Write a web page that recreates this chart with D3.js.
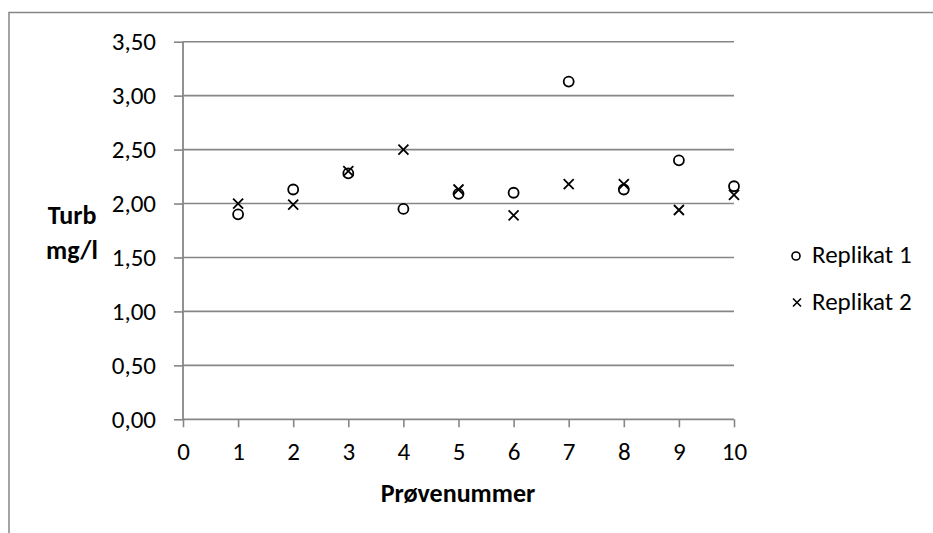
<!DOCTYPE html>
<html>
<head>
<meta charset="utf-8">
<script src="https://cdn.jsdelivr.net/npm/d3@7"></script>
<style>
body { margin: 0; background: #fff; }
svg { display: block; }
text { font-family: Calibri, Carlito, Lato, sans-serif; fill: #000; }
</style>
</head>
<body>
<div id="putsvghere"></div>
<script>
var width = 933;
var height = 533;

// data
var provenummer = [1, 2, 3, 4, 5, 6, 7, 8, 9, 10];
var replikat1 = [1.90, 2.13, 2.28, 1.95, 2.09, 2.10, 3.13, 2.13, 2.40, 2.16];
var replikat2 = [2.00, 1.99, 2.30, 2.50, 2.13, 1.89, 2.18, 2.18, 1.94, 2.08];
var yTicks = [0, 0.5, 1, 1.5, 2, 2.5, 3, 3.5];
var xTicks = [0, 1, 2, 3, 4, 5, 6, 7, 8, 9, 10];
var seriesNames = ["Replikat 1", "Replikat 2"];

var grey = "#868686";
var fontSize = 25;
var titleSize = 26;

var svg = d3.select("#putsvghere").append("svg")
    .attr("width", width).attr("height", height);

// chart border (only top + left visible)
svg.append("path")
    .attr("d", "M9," + height + "V12.5H" + width)
    .attr("fill", "none").attr("stroke", grey).attr("stroke-width", 1.5);

var x = d3.scaleLinear().domain([0, 10]).range([183, 734]);
var y = d3.scaleLinear().domain([0, 3.5]).range([419.3, 41.7]);

var fmt = function(d) { return d3.format(".2f")(d).replace(".", ","); };

// gridlines
svg.append("g").selectAll("line")
    .data(yTicks.filter(d => d > 0))
    .enter().append("line")
    .attr("x1", x(0)).attr("x2", x(10))
    .attr("y1", d => y(d)).attr("y2", d => y(d))
    .attr("stroke", grey).attr("stroke-width", 1.6);

// y axis
var yAxis = svg.append("g")
    .attr("transform", "translate(" + x(0) + ",0)")
    .call(d3.axisLeft(y).tickValues(yTicks).tickFormat(fmt).tickSize(9).tickPadding(18));
// x axis
var xAxis = svg.append("g")
    .attr("transform", "translate(0," + y(0) + ")")
    .call(d3.axisBottom(x).tickValues(xTicks).tickSize(8).tickPadding(15));

[yAxis, xAxis].forEach(a => {
    a.select(".domain").attr("stroke", grey).attr("stroke-width", 1.8);
    a.selectAll(".tick line").attr("stroke", grey).attr("stroke-width", 1.6);
    a.selectAll(".tick text")
        .attr("fill", "#000")
        .style("font-size", fontSize + "px")
        .style("font-family", "Calibri, Carlito, Lato, sans-serif");
});
yAxis.select(".domain").attr("d", "M0," + y(0) + "V" + y(3.5));
xAxis.select(".domain").attr("d", "M" + x(0) + ",0H" + x(10));

// Replikat 1 - circles
svg.append("g").selectAll("circle")
    .data(provenummer)
    .enter().append("circle")
    .attr("cx", d => x(d))
    .attr("cy", (d, i) => y(replikat1[i]))
    .attr("r", 5)
    .attr("fill", "none").attr("stroke", "#000").attr("stroke-width", 1.8);

// Replikat 2 - crosses
var s = 5;
svg.append("g").selectAll("path")
    .data(provenummer)
    .enter().append("path")
    .attr("transform", (d, i) => "translate(" + x(d) + "," + y(replikat2[i]) + ")")
    .attr("d", "M" + -s + "," + -s + "L" + s + "," + s + "M" + -s + "," + s + "L" + s + "," + -s)
    .attr("fill", "none").attr("stroke", "#000").attr("stroke-width", 1.8);

// axis titles
svg.append("text")
    .attr("x", 458).attr("y", 502)
    .attr("text-anchor", "middle")
    .style("font-size", titleSize + "px").style("font-weight", "bold")
    .text("Prøvenummer");

svg.append("text")
    .attr("x", 72).attr("y", 224)
    .attr("text-anchor", "middle")
    .style("font-size", titleSize + "px").style("font-weight", "bold")
    .text("Turb");
svg.append("text")
    .attr("x", 72).attr("y", 259)
    .attr("text-anchor", "middle")
    .style("font-size", titleSize + "px").style("font-weight", "bold")
    .text("mg/l");

// legend
var legend = svg.append("g");
legend.append("circle")
    .attr("cx", 796).attr("cy", 256).attr("r", 4)
    .attr("fill", "none").attr("stroke", "#000").attr("stroke-width", 1.6);
legend.append("path")
    .attr("transform", "translate(797,302.5)")
    .attr("d", "M-4,-4L4,4M-4,4L4,-4")
    .attr("fill", "none").attr("stroke", "#000").attr("stroke-width", 1.6);
legend.selectAll("text")
    .data(seriesNames)
    .enter().append("text")
    .attr("x", 812)
    .attr("y", (d, i) => 263 + i * 46.5)
    .style("font-size", fontSize + "px")
    .text(d => d);
</script>
</body>
</html>
